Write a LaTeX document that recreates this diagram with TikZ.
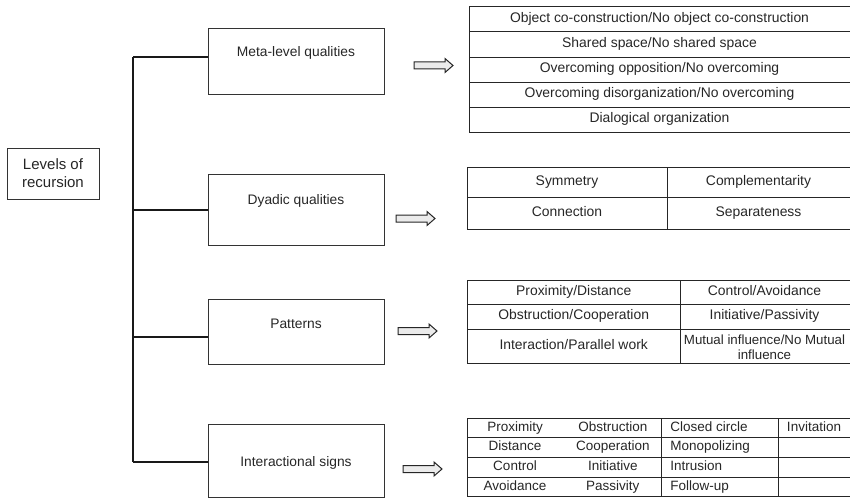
\documentclass[tikz,border=0pt]{standalone}
\usepackage{fontspec}
\setmainfont{Liberation Sans}
\begin{document}
\begin{tikzpicture}[x=1pt,y=-1pt,
  lbl/.style={font=\fontsize{13.8}{16}\selectfont, text=black!85, inner sep=0pt, align=center},
  tlbl/.style={font=\fontsize{13.9}{15}\selectfont, text=black!85, inner sep=0pt, text height=0.8em, text depth=0.2em},
  slbl/.style={font=\fontsize{13.5}{15}\selectfont, text=black!85, inner sep=0pt, text height=0.8em, text depth=0.2em},
  box/.style={draw=black!80, line width=1.3pt, anchor=north west, inner sep=0pt},
  tab/.style={draw=black!85, line width=1pt},
  branch/.style={draw=black!90, line width=2.6pt},
  arr/.style={draw=black!85, line width=1pt, fill=black!8, line join=miter}
]
\useasboundingbox (0,0) rectangle (850,500);
\newcommand\blockarr[2]{%
  \draw[arr] (#1,#2-3.5) -- (#1+31,#2-3.5) -- (#1+31,#2-7) -- (#1+39,#2) -- (#1+31,#2+7) -- (#1+31,#2+3.5) -- (#1,#2+3.5) -- cycle;}

% left box
\node[box, minimum width=92, minimum height=51] (lev) at (7,148) {};
\node[lbl, font=\fontsize{15}{18}\selectfont] (levt) at (53,173.5) {Levels of\\recursion};

% category boxes
\node[box, minimum width=176, minimum height=66] (meta) at (208,28) {};
\node[lbl] (metat) at (296,53) {Meta-level qualities};
\node[box, minimum width=176, minimum height=71] (dya) at (208,174) {};
\node[lbl] (dyat) at (296,200.5) {Dyadic qualities};
\node[box, minimum width=176, minimum height=65] (pat) at (208,299) {};
\node[lbl] (patt) at (296,323.5) {Patterns};
\node[box, minimum width=176, minimum height=73] (sig) at (208,424) {};
\node[lbl] (sigt) at (296,463) {Interactional signs};

% trunk and branches
\coordinate (b1) at (133,57);
\coordinate (b2) at (133,210);
\coordinate (b3) at (133,337);
\coordinate (b4) at (133,462);
\draw[branch] (b1) -- (b4);
\draw[branch] (b1) -- (meta.west |- b1);
\draw[branch] (b2) -- (dya.west |- b2);
\draw[branch] (b3) -- (pat.west |- b3);
\draw[branch] (b4) -- (sig.west |- b4);

% arrows
\blockarr{414}{65.5}
\blockarr{396}{218.5}
\blockarr{398}{331}
\blockarr{403}{469}

% table 1
\draw[tab] (469.3,6.7) rectangle (850.5,132.3);
\foreach \yy in {32,57.3,82.3,107.3} \draw[tab] (469.3,\yy) -- (850.5,\yy);
\node[tlbl] (m1) at (659.5,19.4) {Object co-construction/No object co-construction};
\node[tlbl] (m2) at (659.5,44.7) {Shared space/No shared space};
\node[tlbl] (m3) at (659.5,69.8) {Overcoming opposition/No overcoming};
\node[tlbl] (m4) at (659.5,94.8) {Overcoming disorganization/No overcoming};
\node[tlbl] (m5) at (659.5,119.8) {Dialogical organization};

% table 2
\draw[tab] (467.3,167.3) rectangle (850.5,229);
\draw[tab] (467.3,197.7) -- (850.5,197.7);
\draw[tab] (667.3,167.3) -- (667.3,229);
\node[tlbl] (d1) at (567,182.5) {Symmetry};
\node[tlbl] (d2) at (758.5,182.5) {Complementarity};
\node[tlbl] (d3) at (567,213.3) {Connection};
\node[tlbl] (d4) at (758.5,213.3) {Separateness};

% table 3
\draw[tab] (467.3,280) rectangle (850.5,363.3);
\draw[tab] (467.3,304.3) -- (850.5,304.3);
\draw[tab] (467.3,329) -- (850.5,329);
\draw[tab] (680,280) -- (680,363.3);
\node[tlbl] (p1) at (573.7,292.2) {Proximity/Distance};
\node[tlbl] (p2) at (764.5,292.2) {Control/Avoidance};
\node[tlbl] (p3) at (573.7,316.7) {Obstruction/Cooperation};
\node[tlbl] (p4) at (764.5,316.7) {Initiative/Passivity};
\node[tlbl] (p5) at (573.7,346.2) {Interaction/Parallel work};
\node[font=\fontsize{13.3}{15.5}\selectfont, text=black!85, inner sep=0pt, align=center] (p6) at (764.5,347) {Mutual influence/No Mutual\\influence};

% table 4
\draw[tab] (467.3,418.5) rectangle (850.5,496.7);
\foreach \yy in {437.8,457.3,477.3} \draw[tab] (467.3,\yy) -- (850.5,\yy);
\foreach \xx in {661.7,778.3} \draw[tab] (\xx,418.5) -- (\xx,496.7);
\node[slbl] (s1) at (515,428.2) {Proximity};
\node[slbl] (s2) at (612.8,428.2) {Obstruction};
\node[slbl, anchor=west] (s3) at (670.2,428.2) {Closed circle};
\node[slbl] (s4) at (814,428.2) {Invitation};
\node[slbl] (s5) at (515,447.6) {Distance};
\node[slbl] (s6) at (612.8,447.6) {Cooperation};
\node[slbl, anchor=west] (s7) at (670.2,447.6) {Monopolizing};
\node[slbl] (s8) at (515,467.3) {Control};
\node[slbl] (s9) at (612.8,467.3) {Initiative};
\node[slbl, anchor=west] (s10) at (670.2,467.3) {Intrusion};
\node[slbl] (s11) at (515,487) {Avoidance};
\node[slbl] (s12) at (612.8,487) {Passivity};
\node[slbl, anchor=west] (s13) at (670.2,487) {Follow-up};
\end{tikzpicture}
\end{document}
